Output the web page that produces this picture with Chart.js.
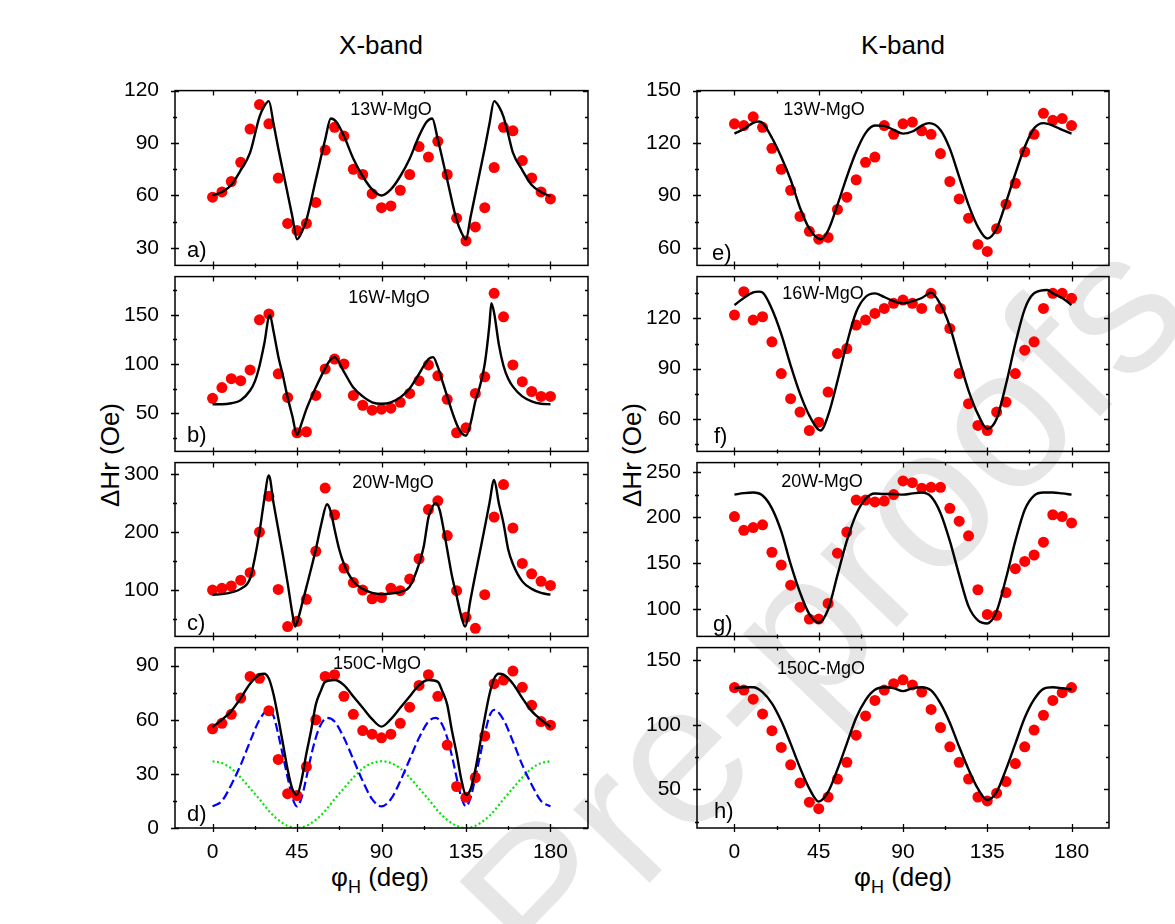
<!DOCTYPE html>
<html>
<head>
<meta charset="utf-8">
<script src="https://cdn.jsdelivr.net/npm/chart.js@4.4.1/dist/chart.umd.min.js"></script>
<style>
body { margin:0; background:#fff; }
#page { position:relative; width:1175px; height:924px; overflow:hidden; background:#fff; font-family:Arial, "Liberation Sans", sans-serif; }
#page canvas { position:absolute; }
.lbl { position:absolute; transform:translate(-50%,-50%); white-space:nowrap; color:#000; font-size:26px; line-height:1; }
.ylbl { transform:translate(-50%,-50%) rotate(-90deg); }
.lbl sub { font-size:18px; vertical-align:-7px; }
#mark { position:absolute; left:822px; top:605px; transform:translate(-50%,-50%) rotate(-46deg); font-size:200px; color:#e6e6e6; white-space:nowrap; line-height:1; }
</style>
</head>
<body>
<div id="page">
  <div id="mark">Pre-proofs</div>
  <div class="lbl" style="left:381px;top:45px">X-band</div>
  <div class="lbl" style="left:903px;top:45px">K-band</div>
  <div class="lbl ylbl" style="left:110px;top:455px">ΔHr (Oe)</div>
  <div class="lbl ylbl" style="left:632px;top:455px">ΔHr (Oe)</div>
  <div class="lbl" style="left:380px;top:880px">φ<sub>H</sub> (deg)</div>
  <div class="lbl" style="left:903px;top:880px">φ<sub>H</sub> (deg)</div>
</div>
<script>
// angle grid of the measured points
const phi = [0,5,10,15,20,25,30,35,40,45,50,55,60,65,70,75,80,85,90,95,100,105,110,115,120,125,130,135,140,145,150,155,160,165,170,175,180];
const xMajor = [0,45,90,135,180];
const xMinor = [22.5,67.5,112.5,157.5];

// a) X-band 13W-MgO
const aPts = [59,62,68,79,98,112,101,70,44,40,44,56,86,99,94,75,72,61,53,54,63,72,88,82,91,72,47,34,42,53,76,99,97,80,70,62,58];
const aFitX = [0,5,10,15,20,25,27.5,30,32.5,35,37.5,40,42.5,45,47.5,50,55,60,63,66,70,75,80,85,90,95,100,105,110,114,117,120,125,130,132.5,135,137.5,140,142.5,145,147.5,150,152.5,155,157.5,160,165,170,175,180];
const aFitY = [60,62,66,74.5,84.5,105,111,114,101,87,74,61,48,35,39,46,69,92,104,102,94,81,71,63.5,60,63.5,71,81,94,102,104,92,69,46,39,35,48,61,74,87,101,114,111,105,95,84.5,74.5,66,62,59.5];
const aMajor = [30,60,90,120];
const aMinor = [45,75,105];

// b) X-band 16W-MgO
const bPts = [65,76,85,83,94,145,151,90,66,30,31,68,95,105,100,68,58,53,54,55,61,70,83,99,88,64,30,35,70,87,172,148,99,82,72,67,67];
const bFitX = [0,5,10,15,20,22.5,25,27.5,30.5,32.5,35,37.5,40,42.5,45,47.5,50,55,60,62.5,65,70,75,80,85,90,95,100,105,110,112.5,115,117.5,120,122.5,125,127.5,130,132.5,135,137.5,140,142.5,145,147.5,148.5,150,152.5,155,157.5,160,165,170,175,180];
const bFitY = [59,59,60,63,73,82,98,120,150,133,108,88,66,47,28,40,54,76,95.5,103.5,107,92,76,67,61,59.5,61,66,75,90,98,105,107,97,82,67,52,39,30,27,40,62,78,100,140,162,152,120,98,85,77,67,62,59.5,59];
const bMajor = [50,100,150];
const bMinor = [25,75,125,175];

// c) X-band 20W-MgO
const cPts = [100,103,107,117,130,200,262,101,37,46,84,167,276,230,138,113,100,85,87,103,99,119,154,239,254,194,99,53,34,92,226,282,207,146,128,115,108];
const cFitX = [0,5,10,15,20,22.5,25,27.5,30,32.5,35,37.5,40,42.5,44,46,48,50,55,58,61,63,65,67.5,70,75,80,85,90,95,100,105,110,112.5,115,117,119,121,122.5,125,127.5,130,132.5,134.5,137.5,140,142.5,145,147.5,150,152.5,155,157.5,160,165,170,175,180];
const cFitY = [92,93,96,102,120,155,200,255,298,250,205,160,112,60,37,55,80,105,170,215,248,235,205,170,145,115,102,95,93,94,97,106,145,175,225,243,250,238,215,170,125,90,55,37,85,127,167,208,250,290,250,215,170,145,115,102,95,92];
const cMajor = [100,200,300];
const cMinor = [50,150,250];

// d) X-band 150C-MgO, total fit and the two contributions
const dPts = [55,58,63,72,84,83,65,38,19,18,34,60,84,85,73,63,54,52,50,52,58,67,79,85,73,46,23,17,28,51,80,82,87,78,68,59,57];
const dFitX = [0,5,10,15,20,25,27.5,30,32.5,35,37.5,40,42.5,45,47.5,50,52.5,55,57.5,60,65,70,75,80,85,90,95,100,105,110,115,120,122.5,125,127.5,130,132.5,135,137.5,140,142.5,145,147.5,150,152.5,155,160,165,170,175,180];
const dFitY = [56,60,64.8,72,80,85,85.5,82.8,74,61,46.8,32.4,21.6,18.4,27,41.4,54,68.4,75.6,81,82,79.2,72.9,66.6,60.3,56.2,60.3,66.6,72.9,79.2,82,81,75.6,68.4,54,41.4,27,18.4,21.6,32.4,46.8,61,74,82.8,85.5,85,80,72,64.8,60,56];
const dBlueX = [0,5,10,15,20,25,30,32.5,35,37.5,40,42.5,45,47.5,50,52.5,55,57.5,61,65,70,75,80,85,90,95,100,105,110,115,119,122.5,125,127.5,130,132.5,135,137.5,140,142.5,145,147.5,150,155,160,165,170,175,180];
const dBlueY = [12,15,24,35,48,60,65.5,62,52,40,28,17,12,17,28,40,50,57,61,59,50,38,26,16,12,16,26,38,50,59,61,57,50,40,28,17,12,17,28,40,52,62,65.5,60,48,35,24,15,12];
const dGreenY = [37,36,33,28,22,16,9.5,4.5,1.2,0,1.2,4.5,9.5,16,22,28,33,36,37,36,33,28,22,16,9.5,4.5,1.2,0,1.2,4.5,9.5,16,22,28,33,36,37];
const dMajor = [0,30,60,90];
const dMinor = [15,45,75];

// e) K-band 13W-MgO
const ePts = [131,130,135,129,117,105,93,78,69.5,65,66,82,89,99,109,112,130,125,131,132,127,125,114,98,88,77,62,58,71,85,97,115,125,137,133,134,130];
const eFitX = [0,5,10,13,15,20,25,30,35,40,46,50,55,60,65,70,75,80,85,90,95,100,104,110,115,120,125,130,135,140,145,150,155,160,165,170,175,180];
const eFitY = [125.4,128,131.5,132.3,131.5,123,112,99,83,71,65,70,84.6,100.7,115,125.7,130,129.8,127.5,125.4,126.6,130,131.4,127.5,116.8,100.7,84.6,72,65.4,71,86,102.5,117.7,128.4,131.4,130,127.5,125.4];
const eMajor = [60,90,120,150];
const eMinor = [75,105,135];

// f) K-band 16W-MgO
const fPts = [122,136,119,121,106,87,72,64,53,58,76,99,102,116,119,123,126,129,131,129,126,135,126,114,87,69,56,53,64,70,87,101,106,126,135,135,132];
const fFitX = [0,5,10,13,15,20,25,30,35,40,46,50,55,60,65,70,75,80,85,90,95,100,105,110,115,120,125,130,135,140,145,150,155,160,167,170,175,180];
const fFitY = [128,132.2,135.5,136,135.5,125.6,110.6,91.9,75,61.9,53,62,82.5,105,123.8,132.8,135,132.8,130.3,129,130.3,132.2,135.4,128.4,115.3,95.6,76.9,62.8,54,60,80.6,105,125.6,135,137,135,132.2,128];
const fMajor = [60,90,120];
const fMinor = [45,75,105,135];

// g) K-band 20W-MgO
const gPts = [201,186,189,192,162,148,126,102,89,89,106,161,184,219,219,217,218,225,240,238,232,233,233,210,196,180,121,94,93,118,144,152,159,173,203,201,194];
const gFitY = [225,226.6,227.3,224,210,184.7,149,118,94.3,85,99.4,137,174.4,203.4,220.5,226.3,225.6,225.6,225,226.3,227.3,222.8,205,174.4,137,102.8,87.5,84.1,97.7,133.5,174.4,208.5,224,227.3,227.3,226.3,225];
const gMajor = [100,150,200,250];
const gMinor = [125,175,225];

// h) K-band 150C-MgO
const hPts = [129,127,120,108.5,95.5,82.5,69,55,40,35,44,58,71,92,107,119,127,132,135,131,125.5,112,98,83,71,58,44,41,47,56,70,83,96,107.5,119,125,129];
const hFitY = [128.5,129.25,129.25,125.5,116.75,103,85.5,66.75,50.5,40.5,48,65.5,85.5,105.5,119.25,127.25,129.25,128.5,126.25,128.5,129.25,126.75,116.75,101.75,83,65.5,50.5,41.75,48,65.5,85.5,105.5,119.75,128,129.25,128.5,127.5];
const hMajor = [50,100,150];
const hMinor = [25,75,125];

const FONT = 'Arial, "Liberation Sans", sans-serif';
const PAD = 15, YW = 70, XH = 45;
const colLeft = [175, 697];
const colRight = [588, 1109];
const rowTop = [85, 271, 457, 642];
const rowBottom = [271, 457, 642, 828];

function toXY(xs, ys){ return xs.map((x, i) => ({ x, y: ys[i] })); }

function pointSet(ys){
  return { data: toXY(phi, ys), pointRadius: 5.5, pointBackgroundColor: '#ff0000', pointBorderWidth: 0, showLine: false, order: 1 };
}
function lineSet(xs, ys, color, dash, order){
  return { data: toXY(xs, ys), showLine: true, pointRadius: 0, borderColor: color, borderWidth: dash ? 2.2 : 2.4,
    borderDash: dash || [], tension: 0.4, cubicInterpolationMode: 'monotone', fill: false, order: order || 0 };
}

const panels = [
  { col:0, row:0, min:20, max:120, major:aMajor, minor:aMinor, name:'13W-MgO', nx:216, ny:19, letter:'a)', lx:12, ly:14,
    sets:[pointSet(aPts), lineSet(aFitX, aFitY, '#000')] },
  { col:0, row:1, min:11, max:189, major:bMajor, minor:bMinor, name:'16W-MgO', nx:214, ny:21, letter:'b)', lx:12, ly:15,
    sets:[pointSet(bPts), lineSet(bFitX, bFitY, '#000')] },
  { col:0, row:2, min:20, max:320, major:cMajor, minor:cMinor, name:'20W-MgO', nx:218, ny:20, letter:'c)', lx:12, ly:12,
    sets:[pointSet(cPts), lineSet(cFitX, cFitY, '#000')] },
  { col:0, row:3, min:0, max:100, major:dMajor, minor:dMinor, name:'150C-MgO', nx:202, ny:16, letter:'d)', lx:12, ly:13,
    sets:[pointSet(dPts), lineSet(dFitX, dFitY, '#000'),
          lineSet(dBlueX, dBlueY, '#0000ff', [9,4], 2), lineSet(phi, dGreenY, '#00e600', [2,2.5], 2)] },
  { col:1, row:0, min:50, max:150, major:eMajor, minor:eMinor, name:'13W-MgO', nx:127, ny:19, letter:'e)', lx:15, ly:11,
    sets:[pointSet(ePts), lineSet(eFitX, eFitY, '#000')] },
  { col:1, row:1, min:40.5, max:145, major:fMajor, minor:fMinor, name:'16W-MgO', nx:126, ny:17, letter:'f)', lx:17, ly:14,
    sets:[pointSet(fPts), lineSet(fFitX, fFitY, '#000')] },
  { col:1, row:2, min:70, max:260, major:gMajor, minor:gMinor, name:'20W-MgO', nx:125, ny:19, letter:'g)', lx:16, ly:11,
    sets:[pointSet(gPts), lineSet(phi, gFitY, '#000')] },
  { col:1, row:3, min:20, max:160, major:hMajor, minor:hMinor, name:'150C-MgO', nx:124, ny:21, letter:'h)', lx:17, ly:16,
    sets:[pointSet(hPts), lineSet(phi, hFitY, '#000')] }
];

// frame box, ticks on all four sides, panel texts
const framePlugin = {
  id: 'frame',
  afterDraw(chart, args, opts){
    const { ctx, chartArea: a, scales } = chart;
    const sx = scales.x, sy = scales.y;
    ctx.save();
    ctx.strokeStyle = '#000';
    ctx.lineWidth = 1.5;
    ctx.strokeRect(a.left, a.top, a.right - a.left, a.bottom - a.top);
    ctx.lineWidth = 1.3;
    ctx.beginPath();
    const xt = (vals, out, inn) => vals.forEach(v => {
      const px = Math.round(sx.getPixelForValue(v)) + 0.5;
      ctx.moveTo(px, a.bottom + out); ctx.lineTo(px, a.bottom - inn);
      ctx.moveTo(px, a.top); ctx.lineTo(px, a.top + inn + 1);
    });
    const yt = (vals, out, inn) => vals.forEach(v => {
      const py = Math.round(sy.getPixelForValue(v)) + 0.5;
      ctx.moveTo(a.left - out, py); ctx.lineTo(a.left + inn, py);
      ctx.moveTo(a.right, py); ctx.lineTo(a.right - inn - 1, py);
    });
    xt(xMajor, 4, 4); xt(xMinor, 2, 2);
    yt(opts.major, 4, 4); yt(opts.minor, 2, 2);
    ctx.stroke();
    ctx.fillStyle = '#000';
    ctx.textBaseline = 'middle';
    ctx.textAlign = 'center';
    ctx.font = '18px ' + FONT;
    ctx.fillText(opts.name, a.left + opts.nx, a.top + opts.ny);
    ctx.textAlign = 'left';
    ctx.font = '22px ' + FONT;
    ctx.fillText(opts.letter, a.left + opts.lx, a.bottom - opts.ly);
    ctx.restore();
  }
};

const page = document.getElementById('page');
panels.forEach(p => {
  const L = colLeft[p.col], R = colRight[p.col], T = rowTop[p.row], B = rowBottom[p.row];
  const isBottom = p.row === 3;
  const w = R - L + YW + PAD;
  const h = B - T + PAD + (isBottom ? XH : PAD);
  const cv = document.createElement('canvas');
  cv.width = w; cv.height = h;
  cv.style.left = (L - YW) + 'px';
  cv.style.top = (T - PAD) + 'px';
  cv.style.width = w + 'px';
  cv.style.height = h + 'px';
  page.appendChild(cv);

  new Chart(cv, {
    type: 'scatter',
    data: { datasets: p.sets },
    options: {
      responsive: false,
      animation: false,
      devicePixelRatio: 1,
      events: [],
      layout: { padding: { top: PAD, right: PAD, left: 0, bottom: isBottom ? 0 : PAD } },
      plugins: {
        legend: { display: false },
        tooltip: { enabled: false },
        frame: { major: p.major, minor: p.minor, name: p.name, nx: p.nx, ny: p.ny, letter: p.letter, lx: p.lx, ly: p.ly }
      },
      scales: {
        x: {
          type: 'linear', min: -20, max: 200,
          grid: { display: false }, border: { display: false },
          ticks: { display: isBottom, color: '#000', font: { family: FONT, size: 21 }, padding: 4, maxRotation: 0, callback: v => String(v) },
          afterBuildTicks: s => { s.ticks = xMajor.map(v => ({ value: v })); },
          afterFit: s => { s.height = isBottom ? XH : 0; }
        },
        y: {
          type: 'linear', min: p.min, max: p.max,
          grid: { display: false }, border: { display: false },
          ticks: { color: '#000', font: { family: FONT, size: 21 }, padding: 8, callback: v => String(v) },
          afterBuildTicks: s => { s.ticks = p.major.map(v => ({ value: v })); },
          afterFit: s => { s.width = YW; }
        }
      }
    },
    plugins: [framePlugin]
  });
});
</script>
</body>
</html>
